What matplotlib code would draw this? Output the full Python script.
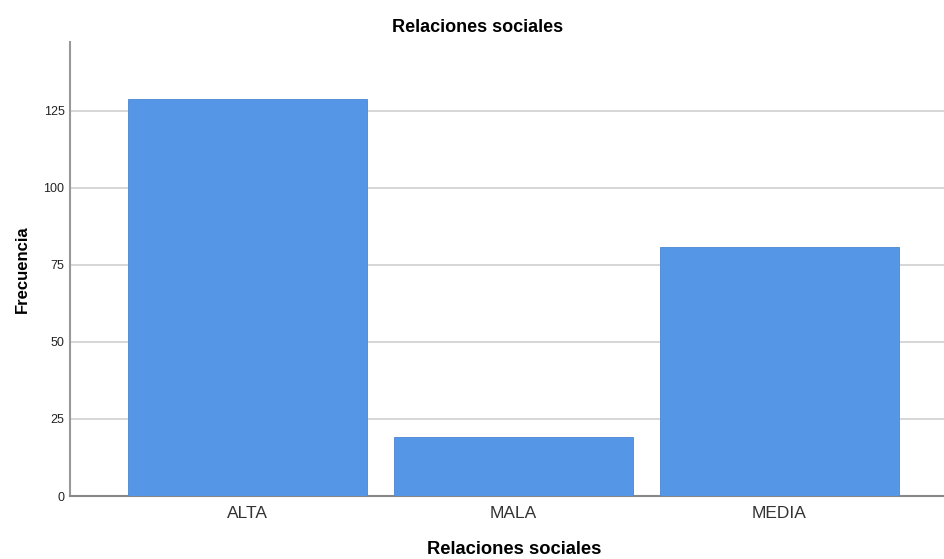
import matplotlib.pyplot as plt

categories = ["ALTA", "MALA", "MEDIA"]
counts = [129, 19, 81]
y_ticks = [0, 25, 50, 75, 100, 125]

plt.rcParams["font.family"] = ["Liberation Sans", "DejaVu Sans"]

fig = plt.figure(figsize=(9.45, 5.59), dpi=100)
ax = fig.add_axes([0.0741, 0.1127, 0.9259, 0.8122])

x = range(len(categories))
ax.bar(x, counts, width=0.9, color="#5596e6", edgecolor="#4a86d4", linewidth=0.6, zorder=3)

ax.set_xlim(-0.667, 2.622)
ax.set_ylim(0, 147.4)
ax.set_yticks(y_ticks)
ax.set_xticks(list(x))
ax.set_xticklabels(categories, fontsize=12.5, color="#333333")
ax.tick_params(axis="y", length=0, labelsize=9, pad=4, colors="#222222")
ax.tick_params(axis="x", length=0, pad=7)

ax.yaxis.grid(True, color="#d0d0d0", linewidth=1.2, zorder=0)
ax.set_axisbelow(True)

for side in ["top", "right"]:
    ax.spines[side].set_visible(False)
ax.spines["left"].set_color("#999999")
ax.spines["bottom"].set_color("#888888")
ax.spines["left"].set_linewidth(1.5)
ax.spines["bottom"].set_linewidth(1.5)

# title and axis labels placed in figure coords
fig.text(478 / 945, 1 - 27 / 559, "Relaciones sociales", fontsize=13, fontweight="bold",
         ha="center", va="center")
fig.text(514 / 945, 1 - 550 / 559, "Relaciones sociales", fontsize=13.2, fontweight="bold",
         ha="center", va="center")
ax.set_ylabel("Frecuencia", fontsize=12, fontweight="bold", labelpad=10)

fig.savefig("out.png", dpi=100)
